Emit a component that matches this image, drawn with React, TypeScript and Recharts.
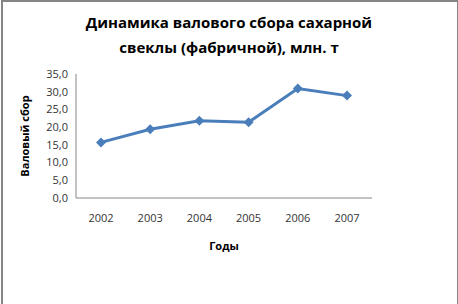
import React from "react";
import { LineChart, Line, XAxis, YAxis, Label } from "recharts";

const years = ["2002", "2003", "2004", "2005", "2006", "2007"];
const harvest = [15.7, 19.4, 21.8, 21.4, 30.9, 28.9];
const yTicks = [0, 5, 10, 15, 20, 25, 30, 35];

const data = years.map((year, i) => ({ year, value: harvest[i] }));

const FONT = "'Open Sans', sans-serif";

const Diamond = (props: any) => {
  const { cx, cy, index } = props;
  if (cx == null || cy == null) return null;
  const r = 5;
  return (
    <polygon
      key={index}
      points={`${cx},${cy - r} ${cx + r},${cy} ${cx},${cy + r} ${cx - r},${cy}`}
      fill="#4a7ebb"
    />
  );
};

const App: React.FC = () => {
  return (
    <div
      style={{
        position: "absolute",
        left: 0,
        top: 0,
        width: 458,
        height: 304,
        background: "#fff",
        overflow: "hidden",
        fontFamily: FONT,
      }}
    >
      <div
        style={{
          position: "absolute",
          left: 1,
          top: 0,
          width: 454,
          height: 310,
          border: "2px solid #858585",
        }}
      />
      <div
        style={{
          position: "absolute",
          left: 0,
          top: 10,
          width: 458,
          textAlign: "center",
          fontWeight: 700,
          fontSize: 15,
          lineHeight: "25px",
          color: "#000",
        }}
      >
        Динамика валового сбора сахарной
        <br />
        свеклы (фабричной), млн. т
      </div>
      <LineChart
        width={458}
        height={304}
        data={data}
        margin={{ top: 74, right: 86, bottom: 76, left: 16 }}
      >
        <XAxis
          dataKey="year"
          tickLine={false}
          stroke="#868686"
          tick={{ fill: "#333", fontSize: 11, fontFamily: FONT }}
          tickMargin={10}
          padding={{ left: 25, right: 25 }}
          height={30}
        >
          <Label
            value="Годы"
            position="insideBottom"
            offset={-22}
            style={{ fontWeight: 700, fontSize: 11, fill: "#000", fontFamily: FONT }}
          />
        </XAxis>
        <YAxis
          domain={[0, 35]}
          ticks={yTicks}
          interval={0}
          tickLine={false}
          stroke="#868686"
          width={60}
          tick={{ fill: "#333", fontSize: 11, fontFamily: FONT }}
          tickFormatter={(v: number) => v.toFixed(1).replace(".", ",")}
        >
          <Label
            value="Валовый сбор"
            angle={-90}
            position="insideLeft"
            offset={9}
            style={{
              fontWeight: 700,
              fontSize: 11,
              fill: "#000",
              fontFamily: FONT,
              textAnchor: "middle",
            }}
          />
        </YAxis>
        <Line
          type="linear"
          dataKey="value"
          stroke="#4a7ebb"
          strokeWidth={3}
          dot={<Diamond />}
          activeDot={false}
          isAnimationActive={false}
        />
      </LineChart>
    </div>
  );
};

export default App;
